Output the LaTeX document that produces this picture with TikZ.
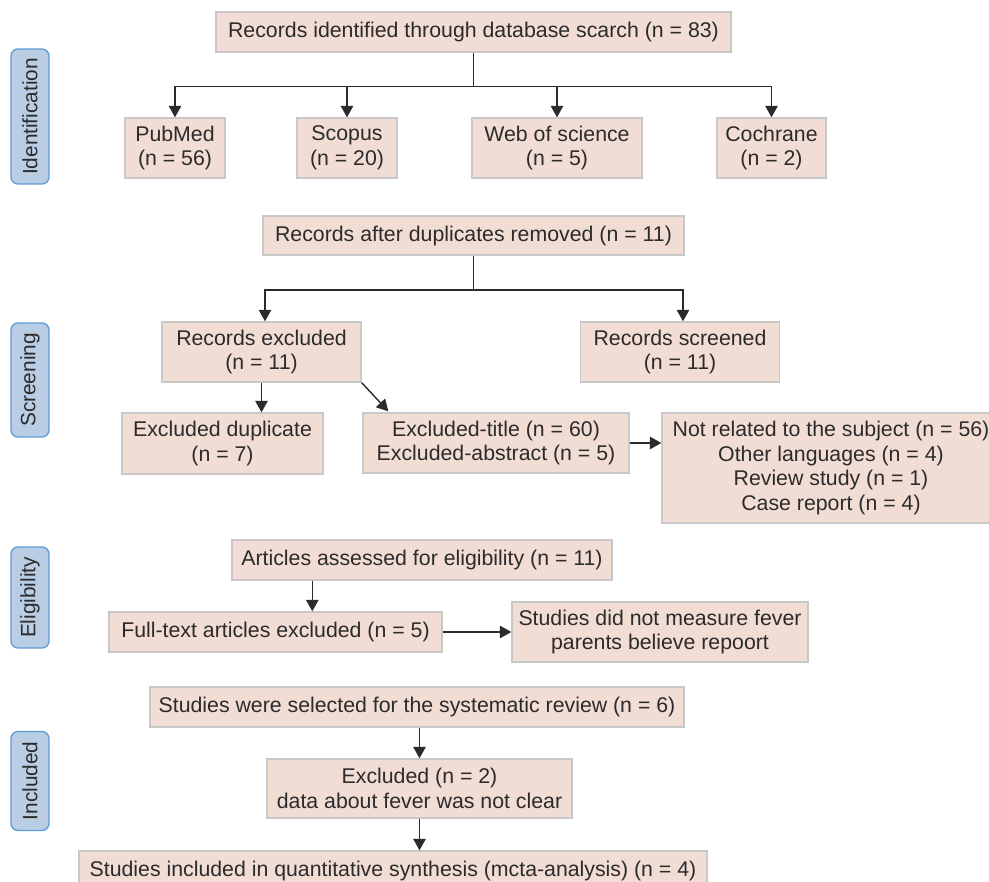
\documentclass[tikz,border=0pt]{standalone}
\usepackage{fontspec}
\setmainfont{Liberation Sans}
\usetikzlibrary{arrows.meta,calc}
\definecolor{boxfill}{HTML}{F2DDD4}
\definecolor{boxline}{HTML}{C8C8C8}
\definecolor{labfill}{HTML}{B9CDE5}
\definecolor{labline}{HTML}{5F9BD5}
\definecolor{ink}{HTML}{2B2B2B}
\tikzset{
  stepbox/.style={draw=boxline, fill=boxfill, line width=1.4pt, inner sep=0pt,
    align=center, text=ink, font=\fontsize{21.3}{24.6}\selectfont},
  phase/.style={draw=labline, fill=labfill, line width=1.3pt, rounded corners=7pt,
    rotate=90, inner sep=0pt, minimum height=38pt, text=ink,
    font=\fontsize{20.8}{24}\selectfont},
  link/.style={draw=ink, line width=1.4pt},
  arr/.style={link, -{Triangle[width=12.5pt,length=11.5pt]}}
}
\begin{document}
\begin{tikzpicture}[x=1pt,y=-1pt]
\useasboundingbox (0,0) rectangle (989,882);
\clip (0,0) rectangle (989,882);

% phase labels
\node[phase, minimum width=135pt] (lid) at (30,116.5) {Identification};
\node[phase, minimum width=114pt] (lsc) at (30,380) {Screening};
\node[phase, minimum width=101pt] (lel) at (30,597.5) {Eligibility};
\node[phase, minimum width=99pt] (lin) at (30,781) {Included};

% identification
\node[stepbox, minimum width=515pt, minimum height=40pt] (top) at (473.5,32) {Records identified through database scarch (n = 83)};
\node[stepbox, minimum width=100pt, minimum height=60pt] (pub) at (175,148) {PubMed\\(n = 56)};
\node[stepbox, minimum width=100pt, minimum height=60pt] (sco) at (347,148) {Scopus\\(n = 20)};
\node[stepbox, minimum width=170pt, minimum height=60pt] (wos) at (557,148) {Web of science\\(n = 5)};
\node[stepbox, minimum width=109pt, minimum height=60pt] (coc) at (771.5,148) {Cochrane\\(n = 2)};

% screening
\node[stepbox, minimum width=421pt, minimum height=39pt] (dup) at (473.5,235.5) {Records after duplicates removed (n = 11)};
\node[stepbox, minimum width=199pt, minimum height=60pt] (rex) at (261.5,352) {Records excluded\\(n = 11)};
\node[stepbox, minimum width=199pt, minimum height=60pt] (rsc) at (680,352) {Records screened\\(n = 11)};
\node[stepbox, minimum width=201pt, minimum height=61pt] (exd) at (222.5,443.5) {Excluded duplicate\\(n = 7)};
\node[stepbox, minimum width=266pt, minimum height=60pt] (ext) at (496,443) {Excluded-title (n = 60)\\Excluded-abstract (n = 5)};
\node[stepbox, minimum width=338pt, minimum height=110pt] (nrl) at (831,468) {Not related to the subject (n = 56)\\Other languages (n = 4)\\Review study (n = 1)\\Case report (n = 4)};

% eligibility
\node[stepbox, minimum width=380pt, minimum height=40pt] (ass) at (422,560) {Articles assessed for eligibility (n = 11)};
\node[stepbox, minimum width=333pt, minimum height=40pt] (ftx) at (275.5,632) {Full-text articles excluded (n = 5)};
\node[stepbox, minimum width=296pt, minimum height=60pt] (nms) at (660,632) {Studies did not measure fever\\parents believe repoort};

% included
\node[stepbox, minimum width=534pt, minimum height=40pt] (sel) at (417,707) {Studies were selected for the systematic review (n = 6)};
\node[stepbox, minimum width=305pt, minimum height=59pt] (ex2) at (419.5,788.5) {Excluded (n = 2)\\data about fever was not clear};
\node[stepbox, minimum width=628pt, minimum height=40pt] (fin) at (393,871) {Studies included in quantitative synthesis (mcta-analysis) (n = 4)};

% connectors: identification
\coordinate (j1) at ($(top.south)+(0,34)$);
\draw[link] (top.south) -- (j1);
\draw[arr] (j1) -| (pub.north);
\draw[arr] (j1) -| (sco.north);
\draw[arr] (j1) -| (wos.north);
\draw[arr] (j1) -| (coc.north);

% screening
\coordinate (j2) at ($(dup.south)+(0,34.5)$);
\draw[link] (dup.south) -- (j2);
\draw[arr] (j2) -| ($(rex.north)+(3.5,0)$);
\draw[arr] (j2) -| ($(rsc.north)+(3,0)$);
\draw[arr] (rex.south) -- (rex.south |- exd.north);
\draw[arr] (rex.south east) -- ($(ext.north west)+(26,-1)$);
\draw[arr] (ext.east) -- (ext.east -| nrl.west);

% eligibility
\coordinate (a1) at ($(ass.south west)+(81,0)$);
\draw[arr] (a1) -- (a1 |- ftx.north);
\draw[arr] (ftx.east) -- (nms.west);

% included
\draw[arr] (ex2.north |- sel.south) -- (ex2.north);
\draw[arr] (ex2.south) -- (ex2.south |- fin.north);
\end{tikzpicture}
\end{document}
